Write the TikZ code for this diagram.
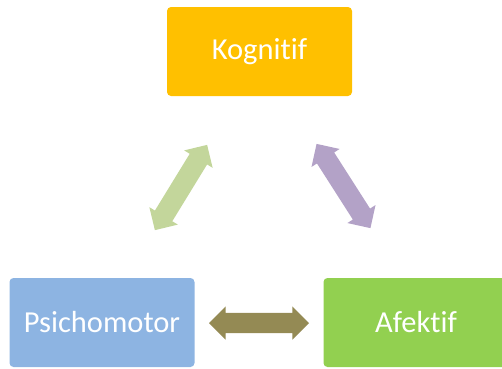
\documentclass[tikz,border=0pt]{standalone}
\usepackage{fontspec}
\setmainfont[Ligatures=NoCommon]{Carlito}
\usepackage{xcolor}
\usetikzlibrary{shapes.arrows}

\definecolor{kuning}{HTML}{FFC000}
\definecolor{biru}{HTML}{8DB4E2}
\definecolor{hijau}{HTML}{92D050}
\definecolor{hijaumuda}{HTML}{C3D69B}
\definecolor{ungu}{HTML}{B3A2C7}
\definecolor{zaitun}{HTML}{948A54}

\begin{document}
\begin{tikzpicture}[x=1pt, y=-1pt,
  kotak/.style={rounded corners=4pt, minimum width=185pt, minimum height=89pt,
    text=white, font=\fontsize{30.5}{36}\selectfont},
  panah/.style={double arrow, double arrow head extend=6.5pt, inner xsep=0pt,
    inner ysep=10pt, minimum height=100pt}]
  \useasboundingbox (0,0) rectangle (502,368);

  % Kotak
  \node[kotak, fill=kuning] (kognitif) at (259.5,51.5) {Kognitif};
  \node[kotak, fill=biru] (psikomotor) at (102,322.5) {Psichomotor};
  \node[kotak, fill=hijau] (afektif) at (416,322.5) {Afektif};

  % Panah dua arah
  \node[panah, fill=hijaumuda, rotate=58.5] (kiri) at (181,187.5) {};
  \node[panah, fill=ungu, rotate=-57.4] (kanan) at (343.5,186) {};
  \node[panah, fill=zaitun] (bawah) at (259,323) {};
\end{tikzpicture}
\end{document}
